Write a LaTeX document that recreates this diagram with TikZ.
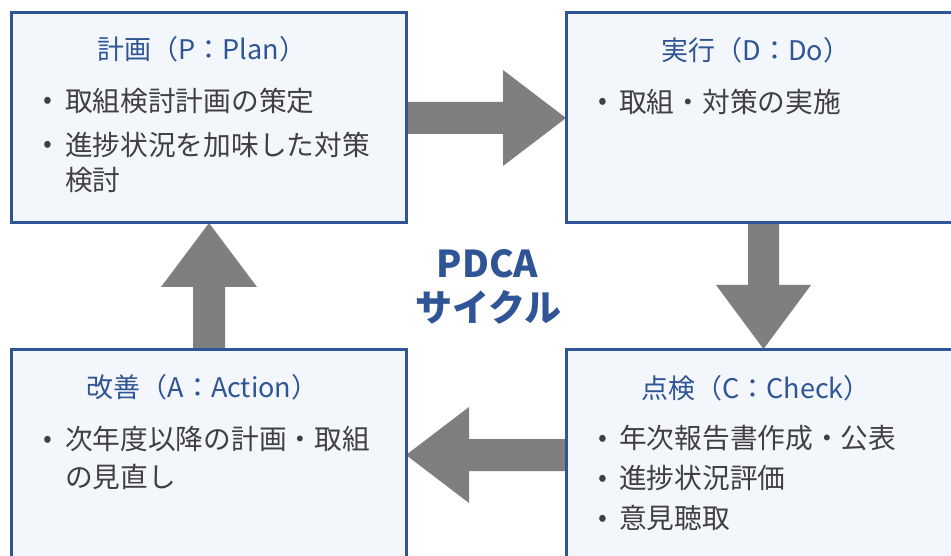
\documentclass[tikz,border=0pt]{standalone}
\usepackage{fontspec}
\setmainfont{Noto Sans CJK JP}
\definecolor{bblue}{HTML}{2F5597}
\definecolor{bfill}{HTML}{F3F6FB}
\definecolor{tgray}{HTML}{404040}
\definecolor{agray}{HTML}{7F7F7F}
\tikzset{
  stagebox/.style={draw=bblue, line width=3pt, fill=bfill, inner sep=0pt, outer sep=0pt,
    minimum width=394.5pt, minimum height=210.5pt, anchor=north west},
  stagebox2/.style={stagebox, minimum height=213pt},
  titletext/.style={anchor=base, inner sep=0pt, text=bblue, font=\fontsize{27}{32}\selectfont},
  bodytext/.style={anchor=base west, inner sep=0pt, text=tgray, font=\fontsize{27.7}{33}\selectfont},
  bullettext/.style={anchor=base, inner sep=0pt, text=tgray, font=\fontsize{26}{30}\selectfont},
  blockarrow/.style={fill=agray, draw=none},
  centertext/.style={anchor=base, inner sep=0pt, text=bblue, font=\fontsize{37}{42}\selectfont\bfseries}
}
\begin{document}
\begin{tikzpicture}[x=1pt, y=-1pt]
\useasboundingbox (0,0) rectangle (951,556);
\clip (0,0) rectangle (951,556);
% block arrows
\coordinate (rt) at (566,118);
\coordinate (lt) at (406,455);
\coordinate (dt) at (763.5,349);
\coordinate (ut) at (209,223);
\fill[blockarrow] (406,102) -- (503,102) -- (503,70) -- (rt) -- (503,166) -- (503,134) -- (406,134) -- cycle;
\fill[blockarrow] (566,439) -- (469,439) -- (469,407) -- (lt) -- (469,503) -- (469,471) -- (566,471) -- cycle;
\fill[blockarrow] (748,223) -- (779,223) -- (779,285) -- (811,285) -- (dt) -- (716,285) -- (748,285) -- cycle;
\fill[blockarrow] (193,349) -- (225,349) -- (225,287) -- (257,287) -- (ut) -- (161,287) -- (193,287) -- cycle;
% boxes
\node[stagebox] (P) at (11.5,12.5) {};
\node[stagebox] (D) at (566,12.5) {};
\node[stagebox2] (A) at (11.5,349) {};
\node[stagebox2] (C) at (566,349) {};
% titles
\node[titletext] (Pt) at (202,59.5) {計画（P：Plan）};
\node[titletext] (Dt) at (756,60.3) {実行（D：Do）};
\node[titletext] (Ct) at (756,398.3) {点検（C：Check）};
\node[titletext] (At) at (202.5,397.3) {改善（A：Action）};
% P body
\node[bullettext] (Pb1) at (48,109) {•};
\node[bodytext] (P1) at (65,111.5) {取組検討計画の策定};
\node[bullettext] (Pb2) at (48,153) {•};
\node[bodytext] (P2) at (65,155.5) {進捗状況を加味した対策};
\node[bodytext] (P3) at (65,190.5) {検討};
% D body
\node[bullettext] (Db1) at (603,110) {•};
\node[bodytext] (D1) at (619,112.5) {取組・対策の実施};
% C body
\node[bullettext] (Cb1) at (603,446) {•};
\node[bodytext] (C1) at (619,448.5) {年次報告書作成・公表};
\node[bullettext] (Cb2) at (603,486) {•};
\node[bodytext] (C2) at (619,488.5) {進捗状況評価};
\node[bullettext] (Cb3) at (603,526) {•};
\node[bodytext] (C3) at (619,528.5) {意見聴取};
% A body
\node[bullettext] (Ab1) at (48,447) {•};
\node[bodytext] (A1) at (65,449.5) {次年度以降の計画・取組};
\node[bodytext] (A2) at (65,487.5) {の見直し};
% center label
\node[centertext] (pdca) at (487.5,278) {PDCA};
\node[centertext] (cycle) at (488.5,321.5) {サイクル};
\end{tikzpicture}
\end{document}
